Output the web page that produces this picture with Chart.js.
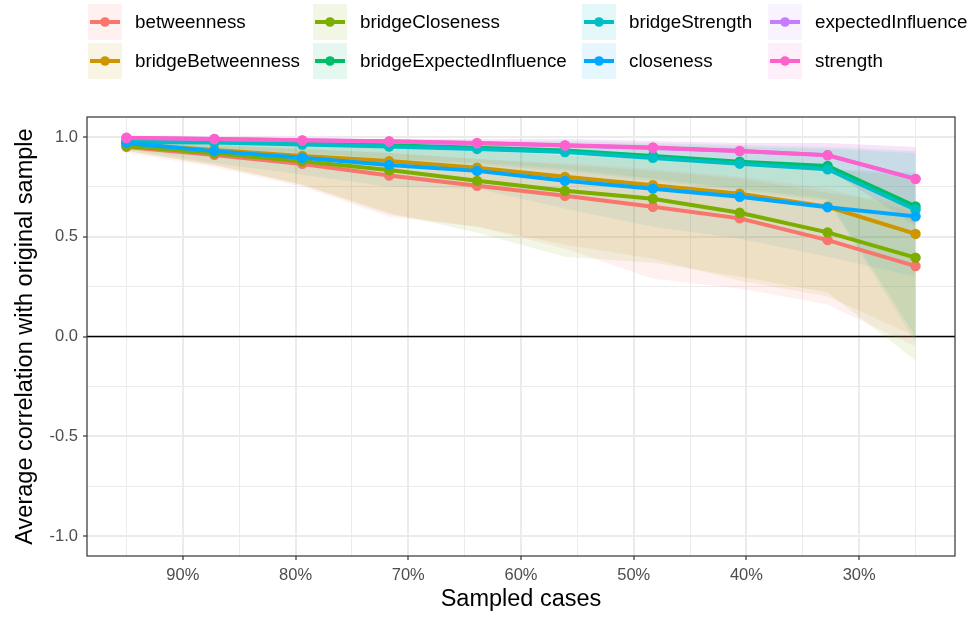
<!DOCTYPE html>
<html>
<head>
<meta charset="utf-8">
<script src="https://cdn.jsdelivr.net/npm/chart.js@4.4.1/dist/chart.umd.min.js"></script>
<style>
html, body { margin: 0; padding: 0; background: #fff; }
#wrap { width: 969px; height: 618px; }
</style>
</head>
<body>
<div id="wrap"><canvas id="stabilityChart" width="969" height="618"></canvas></div>
<script>
// share of cases kept in each subsample (x axis runs from 95% down to 25%)
const sampledCases = [0.95, 0.872, 0.794, 0.717, 0.639, 0.561, 0.483, 0.406, 0.328, 0.25];
const xTickValues = [0.9, 0.8, 0.7, 0.6, 0.5, 0.4, 0.3];
const yTickValues = [-1, -0.5, 0, 0.5, 1];

// legend order is column-wise, like the ggplot legend
const measures = ["betweenness", "bridgeBetweenness", "bridgeCloseness", "bridgeExpectedInfluence",
                  "bridgeStrength", "closeness", "expectedInfluence", "strength"];
const colors = ["#F8766D", "#CD9600", "#7CAE00", "#00BE67", "#00BFC4", "#00A9FF", "#C77CFF", "#FF61CC"];

// mean correlation with the original sample
const betweennessMean = [0.95, 0.91, 0.865, 0.807, 0.755, 0.705, 0.65, 0.592, 0.483, 0.353];
const bridgeBetweennessMean = [0.965, 0.935, 0.905, 0.879, 0.846, 0.80, 0.758, 0.716, 0.65, 0.514];
const bridgeClosenessMean = [0.955, 0.918, 0.878, 0.834, 0.78, 0.73, 0.69, 0.62, 0.522, 0.395];
const bridgeExpectedInfluenceMean = [0.98, 0.975, 0.968, 0.958, 0.946, 0.932, 0.905, 0.876, 0.855, 0.652];
const bridgeStrengthMean = [0.975, 0.972, 0.962, 0.952, 0.94, 0.924, 0.895, 0.866, 0.838, 0.635];
const closenessMean = [0.97, 0.929, 0.896, 0.86, 0.83, 0.78, 0.741, 0.70, 0.648, 0.602];
const expectedInfluenceMean = [0.995, 0.99, 0.983, 0.977, 0.968, 0.957, 0.945, 0.929, 0.908, 0.79];
const strengthMean = [0.996, 0.99, 0.983, 0.978, 0.97, 0.958, 0.947, 0.93, 0.909, 0.79];

// lower and upper quantiles (the shaded ribbons)
const betweennessLow = [0.92, 0.85, 0.75, 0.60, 0.55, 0.44, 0.29, 0.24, 0.16, -0.05];
const betweennessHigh = [0.98, 0.96, 0.94, 0.92, 0.89, 0.87, 0.84, 0.80, 0.74, 0.62];
const bridgeBetweennessLow = [0.93, 0.86, 0.76, 0.61, 0.55, 0.46, 0.39, 0.28, 0.20, 0.0];
const bridgeBetweennessHigh = [0.99, 0.97, 0.96, 0.95, 0.93, 0.91, 0.89, 0.87, 0.84, 0.80];
const bridgeClosenessLow = [0.93, 0.86, 0.76, 0.62, 0.52, 0.40, 0.37, 0.30, 0.22, -0.12];
const bridgeClosenessHigh = [0.98, 0.96, 0.94, 0.92, 0.89, 0.86, 0.83, 0.79, 0.72, 0.66];
const bridgeExpectedInfluenceLow = [0.95, 0.94, 0.92, 0.89, 0.87, 0.84, 0.79, 0.74, 0.69, 0.0];
const bridgeExpectedInfluenceHigh = [0.99, 0.99, 0.99, 0.99, 0.98, 0.98, 0.97, 0.96, 0.95, 0.93];
const bridgeStrengthLow = [0.95, 0.93, 0.91, 0.88, 0.86, 0.83, 0.78, 0.73, 0.68, -0.03];
const bridgeStrengthHigh = [0.99, 0.99, 0.99, 0.98, 0.98, 0.97, 0.96, 0.95, 0.94, 0.92];
const closenessLow = [0.94, 0.87, 0.81, 0.75, 0.74, 0.64, 0.55, 0.49, 0.40, 0.30];
const closenessHigh = [0.99, 0.97, 0.96, 0.95, 0.93, 0.91, 0.89, 0.87, 0.84, 0.82];
const expectedInfluenceLow = [0.98, 0.97, 0.96, 0.95, 0.93, 0.92, 0.90, 0.87, 0.84, 0.56];
const expectedInfluenceHigh = [1.0, 1.0, 0.99, 0.99, 0.99, 0.99, 0.98, 0.97, 0.97, 0.95];
const strengthLow = [0.98, 0.97, 0.96, 0.95, 0.93, 0.92, 0.90, 0.87, 0.84, 0.55];
const strengthHigh = [1.0, 1.0, 0.99, 0.99, 0.99, 0.99, 0.98, 0.97, 0.97, 0.95];

const means = [betweennessMean, bridgeBetweennessMean, bridgeClosenessMean, bridgeExpectedInfluenceMean,
               bridgeStrengthMean, closenessMean, expectedInfluenceMean, strengthMean];
const lows = [betweennessLow, bridgeBetweennessLow, bridgeClosenessLow, bridgeExpectedInfluenceLow,
              bridgeStrengthLow, closenessLow, expectedInfluenceLow, strengthLow];
const highs = [betweennessHigh, bridgeBetweennessHigh, bridgeClosenessHigh, bridgeExpectedInfluenceHigh,
               bridgeStrengthHigh, closenessHigh, expectedInfluenceHigh, strengthHigh];

const FONT = '"Liberation Sans", Arial, Helvetica, sans-serif';

function fade(hex, alpha) {
    const n = parseInt(hex.slice(1), 16);
    return `rgba(${(n >> 16) & 255}, ${(n >> 8) & 255}, ${n & 255}, ${alpha})`;
}

function toPoints(values) {
    return sampledCases.map((x, i) => ({ x: x, y: values[i] }));
}

function isMajor(list, v) {
    return list.some(t => Math.abs(t - v) < 1e-6);
}

let datasets = [];
// ribbons first: upper edge fills down to the lower edge right after it
measures.forEach((name, i) => {
    const upperIndex = datasets.length;
    datasets.push({
        label: name + " upper", data: toPoints(highs[i]), fill: upperIndex + 1,
        backgroundColor: fade(colors[i], 0.1), borderWidth: 0, pointRadius: 0, order: 100
    });
    datasets.push({
        label: name + " lower", data: toPoints(lows[i]), fill: false,
        borderWidth: 0, pointRadius: 0, order: 100
    });
});
// then the mean lines, strength ends up on top
measures.forEach((name, i) => {
    datasets.push({
        label: name, data: toPoints(means[i]), fill: false,
        borderColor: colors[i], backgroundColor: colors[i],
        borderWidth: 4, pointRadius: 5.2, pointHoverRadius: 5.2, pointBorderWidth: 0,
        tension: 0, order: 20 - i
    });
});

// black reference line at zero and the panel border
const panelPlugin = {
    id: "panel",
    beforeDatasetsDraw(chart) {
        const {ctx, chartArea, scales} = chart;
        const y0 = scales.y.getPixelForValue(0);
        ctx.save();
        ctx.strokeStyle = "#000";
        ctx.lineWidth = 1.6;
        ctx.beginPath();
        ctx.moveTo(chartArea.left, y0);
        ctx.lineTo(chartArea.right, y0);
        ctx.stroke();
        ctx.restore();
    },
    afterDatasetsDraw(chart) {
        const {ctx, chartArea} = chart;
        ctx.save();
        ctx.strokeStyle = "#333333";
        ctx.lineWidth = 1.2;
        ctx.strokeRect(chartArea.left, chartArea.top, chartArea.right - chartArea.left, chartArea.bottom - chartArea.top);
        ctx.restore();
    }
};

// ggplot style legend: 4 columns x 2 rows, filled column by column
const legendColumnX = [88, 313, 582, 768];
const legendPlugin = {
    id: "ggLegend",
    afterDraw(chart) {
        const ctx = chart.ctx;
        const rows = 2;
        const keyW = 34, keyH = 36;
        ctx.save();
        ctx.font = "18.8px " + FONT;
        ctx.textBaseline = "middle";
        legendColumnX.forEach((x, c) => {
            for (let r = 0; r < rows; r++) {
                const i = c * rows + r;
                const y = 4 + r * 39;
                const cy = y + keyH / 2;
                ctx.fillStyle = fade(colors[i], 0.1);
                ctx.fillRect(x, y, keyW, keyH);
                ctx.strokeStyle = colors[i];
                ctx.lineWidth = 4;
                ctx.beginPath();
                ctx.moveTo(x + 2, cy);
                ctx.lineTo(x + keyW - 2, cy);
                ctx.stroke();
                ctx.fillStyle = colors[i];
                ctx.beginPath();
                ctx.arc(x + keyW / 2, cy, 4.8, 0, Math.PI * 2);
                ctx.fill();
                ctx.fillStyle = "#000";
                ctx.fillText(measures[i], x + 47, cy + 1);
            }
        });
        ctx.restore();
    }
};

const ctx = document.getElementById("stabilityChart").getContext("2d");
new Chart(ctx, {
    type: "line",
    data: { datasets: datasets },
    options: {
        responsive: false,
        animation: false,
        layout: { padding: { top: 117, right: 14, left: 0, bottom: 0 } },
        plugins: {
            legend: { display: false },
            tooltip: { enabled: false }
        },
        scales: {
            x: {
                type: "linear",
                reverse: true,
                min: 0.215,
                max: 0.985,
                afterBuildTicks(scale) {
                    const vals = [];
                    for (let k = 25; k <= 95; k += 5) vals.push({ value: k / 100 });
                    scale.ticks = vals;
                },
                afterFit(scale) { scale.height = 62; },
                ticks: {
                    autoSkip: false,
                    maxRotation: 0,
                    padding: 6,
                    color: "#4D4D4D",
                    font: { family: FONT, size: 16.5 },
                    callback: v => isMajor(xTickValues, v) ? Math.round(v * 100) + "%" : ""
                },
                grid: {
                    color: "#EBEBEB",
                    lineWidth: c => isMajor(xTickValues, c.tick.value) ? 2 : 1,
                    tickColor: c => isMajor(xTickValues, c.tick.value) ? "#333333" : "rgba(0,0,0,0)",
                    tickLength: 4,
                    tickWidth: 1.2
                },
                border: { display: false },
                title: {
                    display: true,
                    text: "Sampled cases",
                    color: "#000",
                    font: { family: FONT, size: 23.5 },
                    padding: { top: 0, bottom: 4 }
                }
            },
            y: {
                type: "linear",
                min: -1.1,
                max: 1.1,
                afterBuildTicks(scale) {
                    const vals = [];
                    for (let k = -4; k <= 4; k++) vals.push({ value: k / 4 });
                    scale.ticks = vals;
                },
                afterFit(scale) { scale.width = 87; },
                ticks: {
                    padding: 5,
                    color: "#4D4D4D",
                    font: { family: FONT, size: 16.5 },
                    callback: v => isMajor(yTickValues, v) ? v.toFixed(1) : ""
                },
                grid: {
                    color: "#EBEBEB",
                    lineWidth: c => isMajor(yTickValues, c.tick.value) ? 2 : 1,
                    tickColor: c => isMajor(yTickValues, c.tick.value) ? "#333333" : "rgba(0,0,0,0)",
                    tickLength: 4,
                    tickWidth: 1.2
                },
                border: { display: false },
                title: {
                    display: true,
                    text: "Average correlation with original sample",
                    color: "#000",
                    font: { family: FONT, size: 23.5 },
                    padding: { top: 11, bottom: 0 }
                }
            }
        }
    },
    plugins: [panelPlugin, legendPlugin]
});
</script>
</body>
</html>
